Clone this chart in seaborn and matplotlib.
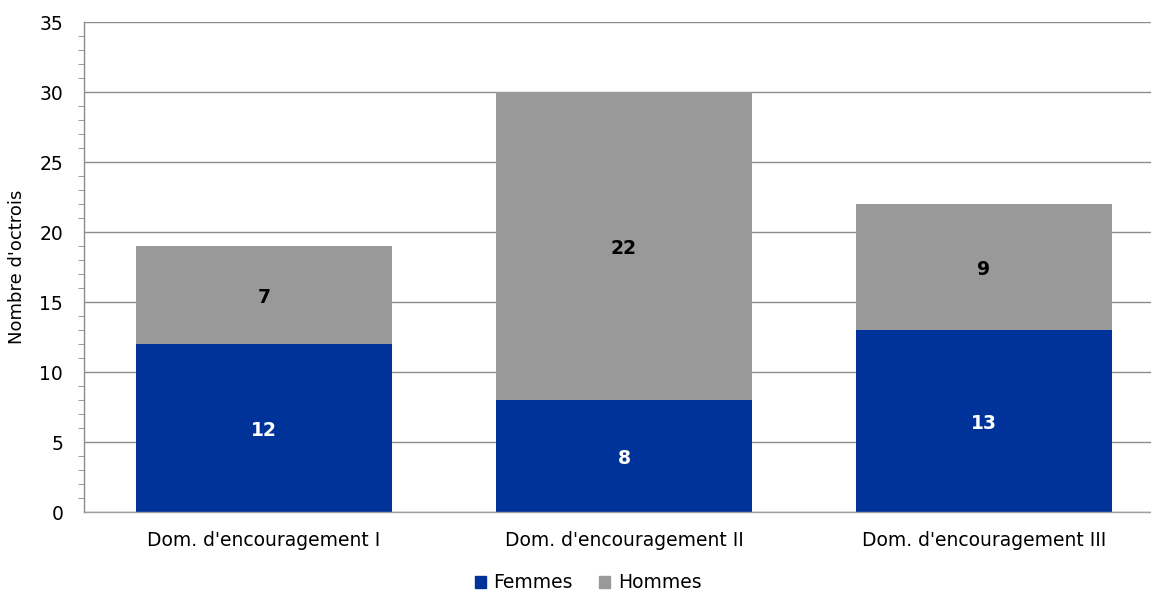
import matplotlib
matplotlib.use("Agg")
import matplotlib.pyplot as plt
from matplotlib.patches import Patch
from matplotlib.ticker import MultipleLocator
import seaborn as sns
import pandas as pd

categories = ["Dom. d'encouragement I", "Dom. d'encouragement II", "Dom. d'encouragement III"]
femmes = [12, 8, 13]
hommes = [7, 22, 9]

blue = "#003399"
grey = "#999999"

df = pd.DataFrame({"cat": categories, "Femmes": femmes, "Hommes": hommes})
df["total"] = df["Femmes"] + df["Hommes"]

sns.set_style("white")
plt.rcParams["font.family"] = ["DejaVu Sans"]
plt.rcParams["text.color"] = "black"
plt.rcParams["xtick.color"] = "black"
plt.rcParams["ytick.color"] = "black"
plt.rcParams["axes.labelcolor"] = "black"

W, H = 1151, 593
fig = plt.figure(figsize=(W / 100, H / 100), dpi=100)
ax = fig.add_axes([84 / W, (H - 512) / H, (1164 - 84) / W, 490 / H])

# stacked: draw totals in grey, then women in blue on top
sns.barplot(data=df, x="cat", y="total", color=grey, width=0.71, saturation=1,
            linewidth=0, ax=ax)
sns.barplot(data=df, x="cat", y="Femmes", color=blue, width=0.71, saturation=1,
            linewidth=0, ax=ax)

for i, (f, h) in enumerate(zip(femmes, hommes)):
    ax.text(i, f / 2 - 0.15, str(f), ha="center", va="center", color="white",
            fontsize=13.5, fontweight="bold")
    ax.text(i, f + h / 2 - 0.15, str(h), ha="center", va="center", color="black",
            fontsize=13.5, fontweight="bold")

ax.set_ylim(0, 35)
ax.set_xlim(-0.5, 2.5)
ax.yaxis.set_major_locator(MultipleLocator(5))
ax.yaxis.set_minor_locator(MultipleLocator(1))
ax.yaxis.grid(True, which="major", color="#8c8c8c", linewidth=1)
ax.set_axisbelow(True)

for s in ["top", "right"]:
    ax.spines[s].set_visible(False)
ax.spines["left"].set_color("#8c8c8c")
ax.spines["bottom"].set_color("#a0a0a0")
ax.spines["left"].set_linewidth(1)
ax.spines["bottom"].set_linewidth(1)

ax.tick_params(axis="y", which="major", length=6, color="#8c8c8c", labelsize=13.5, pad=9)
ax.tick_params(axis="y", which="minor", length=4, color="#8c8c8c", left=True)
ax.tick_params(axis="x", length=0, labelsize=13.5, pad=14)

ax.set_xlabel("")
ax.set_ylabel("Nombre d'octrois", fontsize=13, labelpad=10)

handles = [Patch(color=blue, label="Femmes"), Patch(color=grey, label="Hommes")]
fig.legend(handles=handles, loc="center", bbox_to_anchor=(588 / W, 1 - 583 / H), ncol=2,
           frameon=False, fontsize=13.5, handlelength=0.6, handleheight=0.6,
           handletextpad=0.4, columnspacing=1.4)

fig.savefig("out.png", dpi=100)
